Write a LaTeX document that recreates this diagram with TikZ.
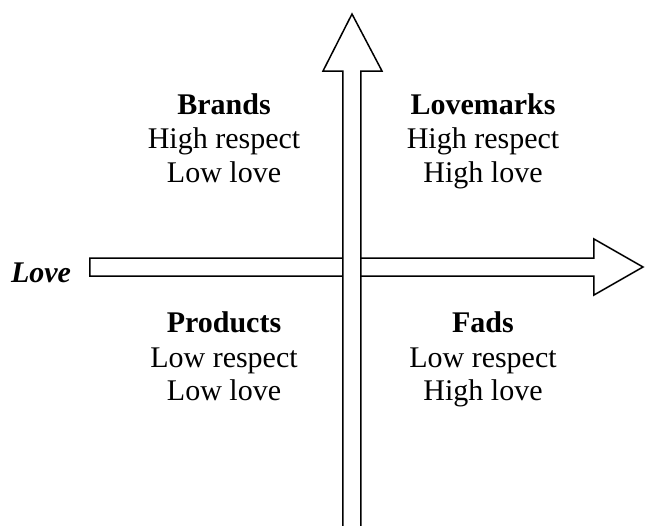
\documentclass[tikz,border=0pt]{standalone}
\usepackage{fontspec}
\setmainfont{Liberation Serif}
\usepackage{tikz}
\usetikzlibrary{backgrounds}
\newcommand{\qdxl}{224}
\newcommand{\qdxr}{483}
\newcommand{\qdya}{114}
\newcommand{\qdyb}{148}
\newcommand{\qdyc}{182}
\newcommand{\qdyd}{332}
\newcommand{\qdye}{367}
\newcommand{\qdyf}{400}
\newcommand{\shvl}{343}
\newcommand{\shvr}{361}
\newcommand{\shht}{258}
\newcommand{\shhb}{276}
\tikzset{axisarrow/.style={draw=black,fill=white,line width=0.75pt,line join=miter}}

\begin{document}
\begin{tikzpicture}[x=0.5pt,y=-0.5pt,anchor=base,
    font=\fontsize{15}{17}\selectfont]
    \useasboundingbox (0,0) rectangle (645,526);

    \node (brands) at (\qdxl, \qdya) {\textbf{Brands}};
    \node (brandsrsp) at (\qdxl, \qdyb) {High respect};
    \node (brandslv) at (\qdxl, \qdyc) {Low love};

    \node (lovemarks) at (\qdxr, \qdya) {\textbf{Lovemarks}};
    \node (lovemarksrsp) at (\qdxr, \qdyb) {High respect};
    \node (lovemarkslv) at (\qdxr, \qdyc) {High love};

    \node (products) at (\qdxl, \qdyd) {\textbf{Products}};
    \node (productsrsp) at (\qdxl, \qdye) {Low respect};
    \node (productslv) at (\qdxl, \qdyf) {Low love};

    \node (fads) at (\qdxr, \qdyd) {\textbf{Fads}};
    \node (fadsrsp) at (\qdxr, \qdye) {Low respect};
    \node (fadslv) at (\qdxr, \qdyf) {High love};

    \node (love) at (41, 282) {\textbf{\textit{Love}}};

    \begin{scope}[on background layer]
      % love axis, drawn first so the respect axis lies over it
      \path[axisarrow] (90,\shht) -- (594,\shht) -- (594,239)
        -- (643,267) -- (594,295) -- (594,\shhb) -- (90,\shhb) -- cycle;
      % respect axis, open at the bottom
      \path[axisarrow] (\shvl,526) -- (\shvl,71) -- (323,71)
        -- (352,14) -- (382,71) -- (\shvr,71) -- (\shvr,526);
    \end{scope}
  \end{tikzpicture}
\end{document}
